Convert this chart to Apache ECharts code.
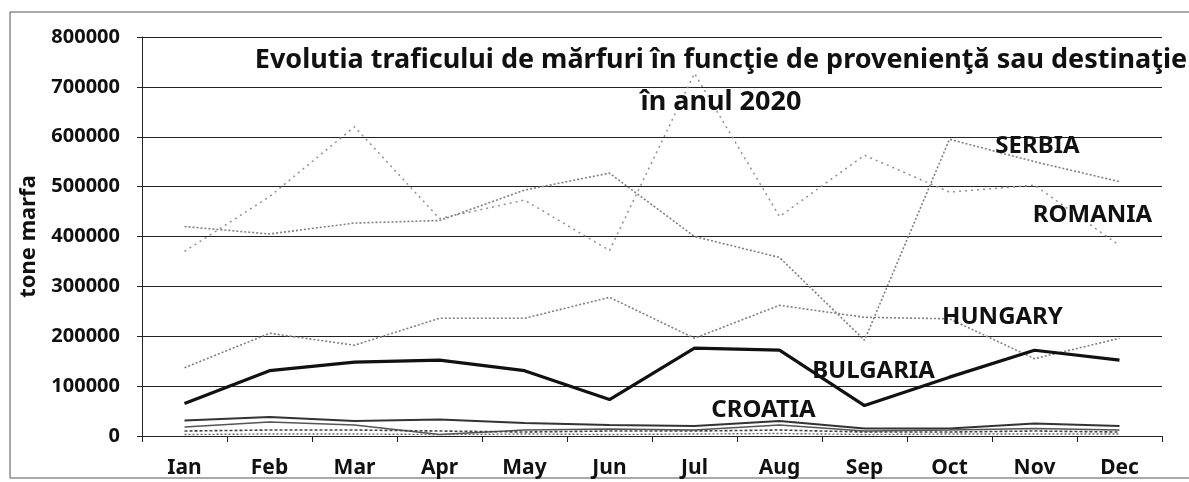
<!DOCTYPE html>
<html>
<head>
<meta charset="utf-8">
<script src="https://cdn.jsdelivr.net/npm/echarts@6/dist/echarts.min.js"></script>
<style>
  html, body { margin: 0; padding: 0; background: #fff; }
  #chart { width: 1189px; height: 482px; }
</style>
</head>
<body>
<div id="chart"></div>
<script>
const months = ['Ian', 'Feb', 'Mar', 'Apr', 'May', 'Jun', 'Jul', 'Aug', 'Sep', 'Oct', 'Nov', 'Dec'];
const yTicks = [0, 100000, 200000, 300000, 400000, 500000, 600000, 700000, 800000];

const serbia = [420000, 405000, 427000, 432000, 493000, 527000, 400000, 358000, 192000, 595000, 550000, 510000];
const romania = [370000, 480000, 620000, 436000, 473000, 372000, 727000, 440000, 563000, 489000, 503000, 382000];
const hungary = [137000, 206000, 182000, 236000, 236000, 278000, 196000, 262000, 238000, 235000, 155000, 196000];
const bulgaria = [65000, 131000, 148000, 152000, 131000, 73000, 176000, 172000, 61000, 118000, 172000, 152000];
const croatia = [31000, 38000, 30000, 33000, 26000, 22000, 20000, 30000, 15000, 15000, 25000, 20000];
const other1 = [18000, 28000, 22000, 3000, 12000, 14000, 12000, 22000, 10000, 12000, 15000, 12000];
const other2 = [10000, 12000, 12000, 10000, 8000, 10000, 10000, 12000, 8000, 8000, 10000, 8000];
const other3 = [3000, 4000, 4000, 3000, 4000, 3000, 4000, 5000, 3000, 4000, 4000, 4000];

const titleLines = ['Evolutia traficului de mărfuri în funcţie de provenienţă sau destinaţie', 'în anul 2020'];

const FONT = '"Noto Sans", "Liberation Sans", Arial, sans-serif';

// etichetă de serie plasată în interiorul graficului
function tag(text, month, value, dx, dy) {
  return {
    symbol: 'rect',
    symbolSize: 0,
    silent: true,
    data: [{ coord: [month, value] }],
    label: {
      show: true,
      position: 'inside',
      offset: [dx, dy],
      formatter: text,
      color: '#111',
      fontFamily: FONT,
      fontWeight: 'bold',
      fontSize: 24
    }
  };
}

function line(name, data, color, width, type, mark) {
  const s = {
    name: name,
    type: 'line',
    data: data,
    symbol: 'none',
    silent: true,
    z: 3,
    lineStyle: { color: color, width: width, type: type }
  };
  if (mark) s.markPoint = mark;
  return s;
}

const chart = echarts.init(document.getElementById('chart'), null, { renderer: 'canvas' });

chart.setOption({
  animation: false,
  backgroundColor: '#fff',
  grid: { left: 142, right: 27, top: 37, bottom: 46 },
  xAxis: {
    type: 'category',
    data: months,
    boundaryGap: true,
    axisLine: { lineStyle: { color: '#222', width: 1 } },
    axisTick: { show: true, length: 6, lineStyle: { color: '#222' } },
    axisLabel: { margin: 22, color: '#111', fontFamily: FONT, fontWeight: 'bold', fontSize: 21 }
  },
  yAxis: {
    type: 'value',
    min: yTicks[0],
    max: yTicks[yTicks.length - 1],
    interval: yTicks[1] - yTicks[0],
    name: 'tone marfa',
    nameLocation: 'middle',
    nameGap: 102,
    nameTextStyle: { color: '#111', fontFamily: FONT, fontWeight: 'bold', fontSize: 22 },
    axisLine: { show: true, lineStyle: { color: '#222', width: 1 } },
    axisTick: { show: true, length: 5, lineStyle: { color: '#222' } },
    axisLabel: {
      margin: 22, color: '#111', fontFamily: FONT, fontWeight: 'bold', fontSize: 20,
      formatter: function (v) { return String(v); }
    },
    splitLine: { lineStyle: { color: '#222', width: 1 } }
  },
  graphic: [
    {
      type: 'rect',
      silent: true,
      shape: { x: 10, y: 12, width: 1200, height: 466 },
      style: { fill: 'none', stroke: '#555', lineWidth: 1 }
    },
    {
      type: 'text',
      silent: true,
      x: 721,
      y: 39,
      z: 10,
      style: {
        text: titleLines.join('\n'),
        textAlign: 'center',
        fill: '#111',
        font: 'bold 27px ' + FONT,
        lineHeight: 42
      }
    }
  ],
  series: [
    line('SERBIA', serbia, '#808080', 1.6, [2, 2], tag('SERBIA', 'Nov', 581000, 3, 0)),
    line('ROMANIA', romania, '#909090', 1.5, [2, 4], tag('ROMANIA', 'Nov', 442000, 58, 0)),
    line('HUNGARY', hungary, '#808080', 1.6, [2, 2], tag('HUNGARY', 'Oct', 238000, 53, 0)),
    line('BULGARIA', bulgaria, '#111', 3.2, 'solid', tag('BULGARIA', 'Sep', 131000, 9, 0)),
    line('CROATIA', croatia, '#333', 2, 'solid', tag('CROATIA', 'Aug', 51000, -16, 0)),
    line('Altele 1', other1, '#555', 1.6, 'solid'),
    line('Altele 2', other2, '#444', 1.6, [3, 2]),
    line('Altele 3', other3, '#666', 1.4, [2, 2])
  ]
});
</script>
</body>
</html>
